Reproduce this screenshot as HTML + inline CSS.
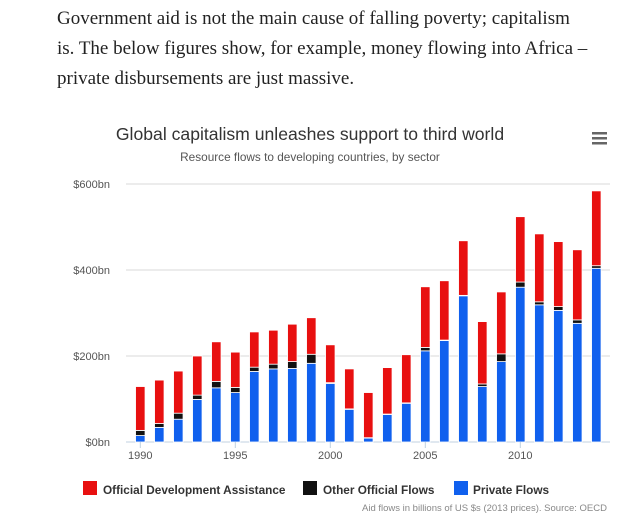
<!DOCTYPE html>
<html><head><meta charset="utf-8"><style>
body{margin:0;background:#fff;width:632px;height:532px;overflow:hidden;position:relative}
#intro{position:absolute;left:57px;top:4px;width:575px;font-family:"Liberation Serif",serif;font-size:19px;line-height:30px;color:#222;margin:0;white-space:nowrap}
svg{position:absolute;left:0;top:0}
text{font-family:"Liberation Sans",sans-serif}
</style></head><body>
<p id="intro">Government aid is not the main cause of falling poverty; capitalism<br>is. The below figures show, for example, money flowing into Africa –<br>private disbursements are just massive.</p>
<svg width="632" height="532">
<text x="310" y="140" text-anchor="middle" font-size="17.6" fill="#333">Global capitalism unleashes support to third world</text>
<text x="310" y="161" text-anchor="middle" font-size="11.8" fill="#555">Resource flows to developing countries, by sector</text>
<g><rect x="592" y="132" width="15" height="2.5" fill="#666"/><rect x="592" y="137" width="15" height="2.5" fill="#666"/><rect x="592" y="142" width="15" height="2.5" fill="#666"/></g>
<g id="grid"></g><g id="bars"></g><g id="xaxis"></g>
<g>
<rect x="83" y="481" width="14" height="14" fill="#e81010"/>
<text x="103" y="494" font-size="11.8" font-weight="bold" fill="#333">Official Development Assistance</text>
<rect x="303" y="481" width="14" height="14" fill="#111"/>
<text x="323" y="494" font-size="11.8" font-weight="bold" fill="#333">Other Official Flows</text>
<rect x="454" y="481" width="14" height="14" fill="#1060ee"/>
<text x="473" y="494" font-size="11.8" font-weight="bold" fill="#333">Private Flows</text>
</g>
<text x="607" y="511" text-anchor="end" font-size="9.5" fill="#888">Aid flows in billions of US $s (2013 prices). Source: OECD</text>
</svg>
<script>
const years=[1990,1991,1992,1993,1994,1995,1996,1997,1998,1999,2000,2001,2002,2003,2004,2005,2006,2007,2008,2009,2010,2011,2012,2013,2014];
const privateFlows=[15,34,53,99,126,115,164,170,171,183,136,76,9,64,90,212,236,340,129,187,360,319,306,276,404];
const otherOfficial=[12,9,14,10,15,12,10,11,16,21,2,1,1,1,1,8,1,1,6,18,12,7,9,8,6];
const oda=[102,101,98,91,92,82,82,79,87,85,88,93,105,108,112,141,138,127,145,144,152,158,151,163,174];
const yTicks=[0,200,400,600];
const xTicks=[1990,1995,2000,2005,2010];
const NS="http://www.w3.org/2000/svg";
const y0=442,pxPer=0.43;
function yS(v){return y0-v*pxPer;}
function xS(yr){return 140.3+(yr-1990)*19;}
function mk(tag,attrs,parent){const e=document.createElementNS(NS,tag);for(const k in attrs)e.setAttribute(k,attrs[k]);parent.appendChild(e);return e;}
const grid=document.getElementById('grid'),bars=document.getElementById('bars'),xa=document.getElementById('xaxis');
yTicks.forEach(t=>{
 const l=mk('line',{x1:126,x2:610,y1:yS(t),y2:yS(t),stroke:t===0?'#c0d0e0':'#d8d8d8','stroke-width':1},grid);
 
 
 const tx=mk('text',{x:110,y:yS(t)+4,'text-anchor':'end','font-size':11,fill:'#555'},grid);
 tx.textContent='$'+t+'bn';
 
 
});
xTicks.forEach(t=>{
 const l=mk('line',{x1:xS(t),x2:xS(t),y1:y0,y2:y0+6,stroke:'#c0d0e0'},xa);
 
 
 const tx=mk('text',{x:xS(t),y:y0+17,'text-anchor':'middle','font-size':11,fill:'#555'},xa);
 tx.textContent=t;
 
 
});
years.forEach((yr,i)=>{
 const cx=xS(yr),w=9.5;
 const segs=[[privateFlows[i],'#1060ee','private'],[otherOfficial[i],'#111','oof'],[oda[i],'#e81010','oda']];
 let base=0;
 segs.forEach(s=>{
  const top=base+s[0];
  const r=mk('rect',{x:cx-w/2,y:yS(top),width:w,height:Math.max(0,yS(base)-yS(top)),fill:s[1],stroke:'#fff','stroke-width':0.8},bars);
  
  
  base=top;
 });
});
</script>
</body></html>
